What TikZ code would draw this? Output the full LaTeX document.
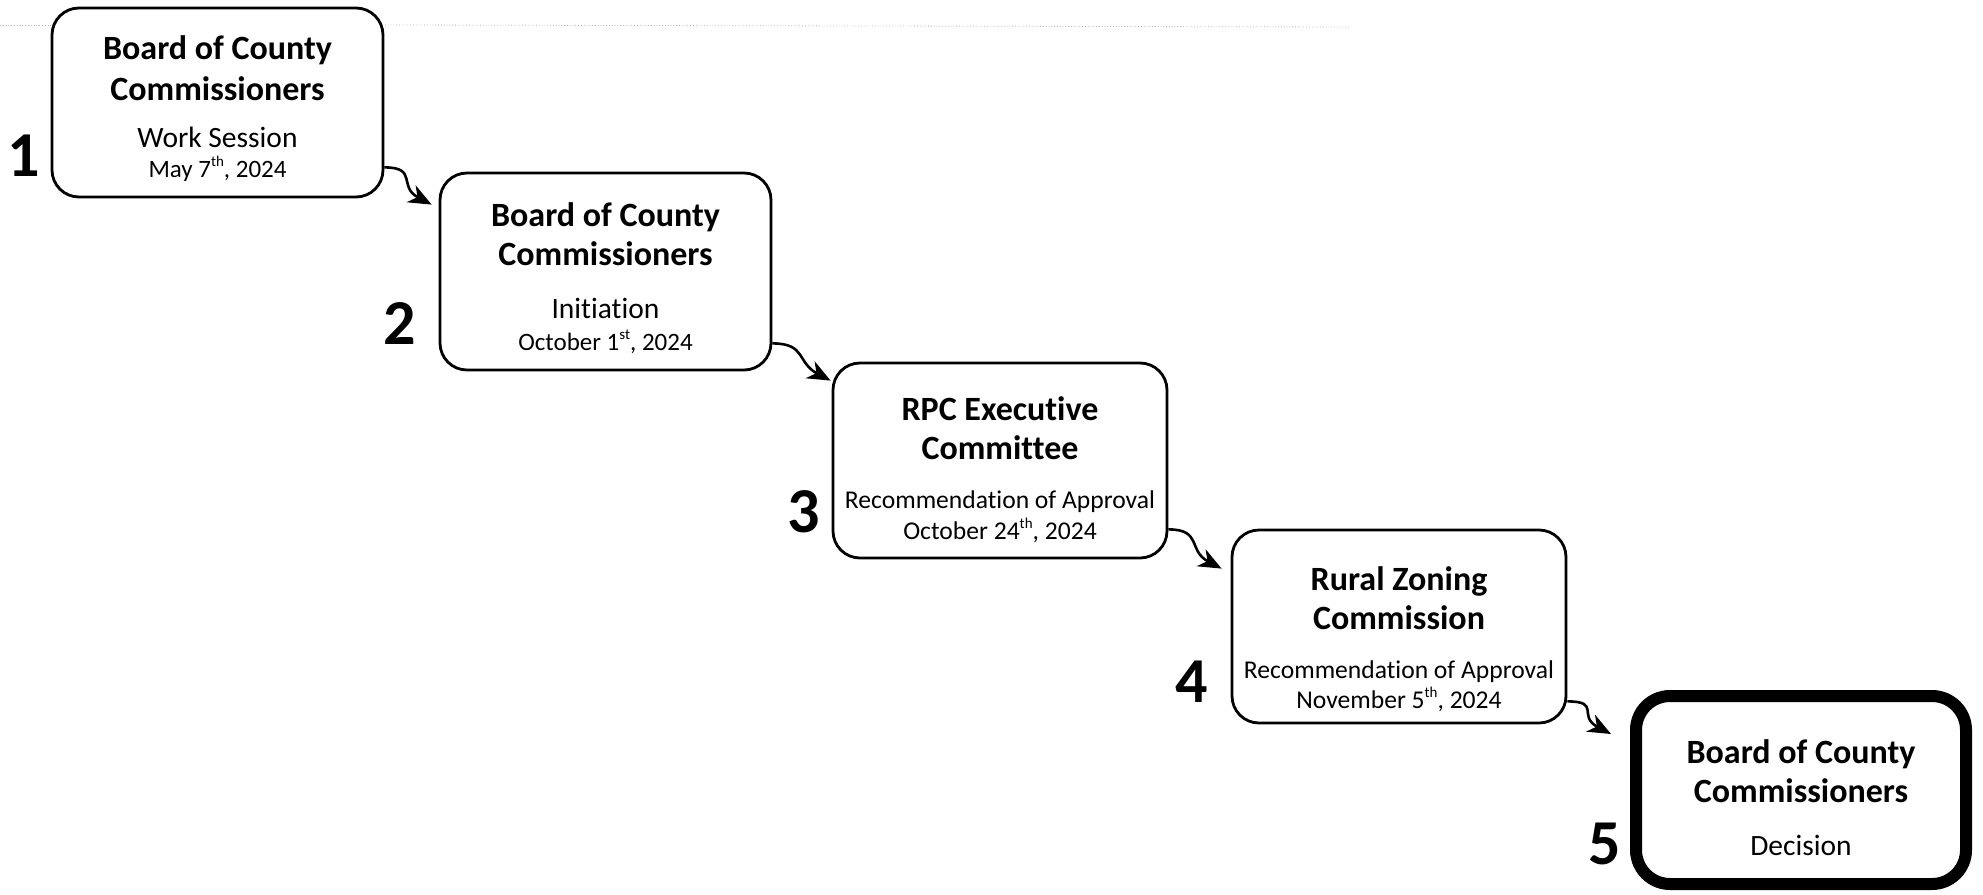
\documentclass[tikz,border=0pt]{standalone}
\usepackage{fontspec}
\setmainfont{Carlito}[Ligatures=NoCommon]
\usetikzlibrary{arrows.meta,calc}
\tikzset{
  stagebox/.style={draw=black, line width=2.8pt, rounded corners=27pt, inner sep=0pt, fill=white},
  finalbox/.style={draw=black, line width=12pt, rounded corners=34pt, inner sep=0pt, fill=white},
  titleline/.style={anchor=base, inner sep=0pt, font=\bfseries\fontsize{34}{40}\selectfont},
  subline/.style={anchor=base, inner sep=0pt, font=\fontsize{29.5}{34}\selectfont},
  dateline/.style={anchor=base, inner sep=0pt, font=\fontsize{25}{30}\selectfont},
  recline/.style={anchor=base, inner sep=0pt, font=\fontsize{25.6}{30}\selectfont},
  stepnum/.style={anchor=base east, inner sep=0pt, font=\bfseries\fontsize{64}{70}\selectfont},
  flow/.style={line width=2.6pt, -{Stealth[length=23pt,width=19pt,inset=7pt]}},
  scanline/.style={black!30, line width=0.8pt, dotted}
}
\newcommand{\sups}[1]{\raisebox{0.42em}{\fontsize{15}{15}\selectfont #1}}
\begin{document}
\begin{tikzpicture}[x=1pt,y=-1pt]
\useasboundingbox (0,0) rectangle (1983,894);
% scan artefact
\draw[scanline] (0,25) -- (52,25);
\draw[scanline] (385,25) -- (1350,27);
% boxes
\node[stagebox, minimum width=331pt, minimum height=189pt] (B1) at (217.5,102.5) {};
\node[stagebox, minimum width=331pt, minimum height=197pt] (B2) at (605.5,271.5) {};
\node[stagebox, minimum width=334pt, minimum height=195pt] (B3) at (1000,460.5) {};
\node[stagebox, minimum width=334pt, minimum height=193pt] (B4) at (1399,626.5) {};
\node[finalbox, minimum width=330pt, minimum height=188pt] (B5) at (1801,790) {};
% box 1
\node[titleline] (B1t1) at (217.5,59) {Board of County};
\node[titleline] (B1t2) at (217.5,100) {Commissioners};
\node[subline] (B1s) at (217.5,147) {Work Session};
\node[dateline] (B1d) at (217.5,177) {May 7\sups{th}, 2024};
% box 2
\node[titleline] (B2t1) at (605.5,226) {Board of County};
\node[titleline] (B2t2) at (605.5,265) {Commissioners};
\node[subline] (B2s) at (605.5,318) {Initiation};
\node[dateline] (B2d) at (605.5,350) {October 1\sups{st}, 2024};
% box 3
\node[titleline] (B3t1) at (1000,420) {RPC Executive};
\node[titleline] (B3t2) at (1000,459) {Committee};
\node[recline] (B3s) at (1000,508) {Recommendation of Approval};
\node[recline] (B3d) at (1000,539) {October 24\sups{th}, 2024};
% box 4
\node[titleline] (B4t1) at (1399,590) {Rural Zoning};
\node[titleline] (B4t2) at (1399,629) {Commission};
\node[recline] (B4s) at (1399,678) {Recommendation of Approval};
\node[recline] (B4d) at (1399,708) {November 5\sups{th}, 2024};
% box 5
\node[titleline] (B5t1) at (1801,763) {Board of County};
\node[titleline] (B5t2) at (1801,802) {Commissioners};
\node[subline] (B5s) at (1801,855) {Decision};
% step numbers
\node[stepnum] (N1) at ($(B1.south west)+(-10,-22)$) {1};
\node[stepnum] (N2) at ($(B2.south west)+(-22,-27)$) {2};
\node[stepnum] (N3) at ($(B3.south west)+(-11,-27)$) {3};
\node[stepnum] (N4) at ($(B4.south west)+(-22,-22)$) {4};
\node[stepnum] (N5) at ($(B5.south west)+(-9,-26)$) {5};
% connector end points
\coordinate (S1) at ($(B1.south east)+(0,-31)$);
\coordinate (E2) at ($(B2.north west)+(-7,33)$);
\coordinate (S2) at ($(B2.south east)+(0,-28)$);
\coordinate (E3) at ($(B3.north west)+(-1,19)$);
\coordinate (S3) at ($(B3.south east)+(0,-30)$);
\coordinate (E4) at ($(B4.north west)+(-9,40)$);
\coordinate (S4) at ($(B4.south east)+(0,-23)$);
\coordinate (E5) at ($(B5.north west)+(-19,44)$);
\draw[flow] (S1) .. controls +(34,0) and +(-34,-18) .. (E2);
\draw[flow] (S2) .. controls +(34,0) and +(-34,-18) .. (E3);
\draw[flow] (S3) .. controls +(34,0) and +(-34,-18) .. (E4);
\draw[flow] (S4) .. controls +(34,0) and +(-34,-18) .. (E5);
\end{tikzpicture}
\end{document}
